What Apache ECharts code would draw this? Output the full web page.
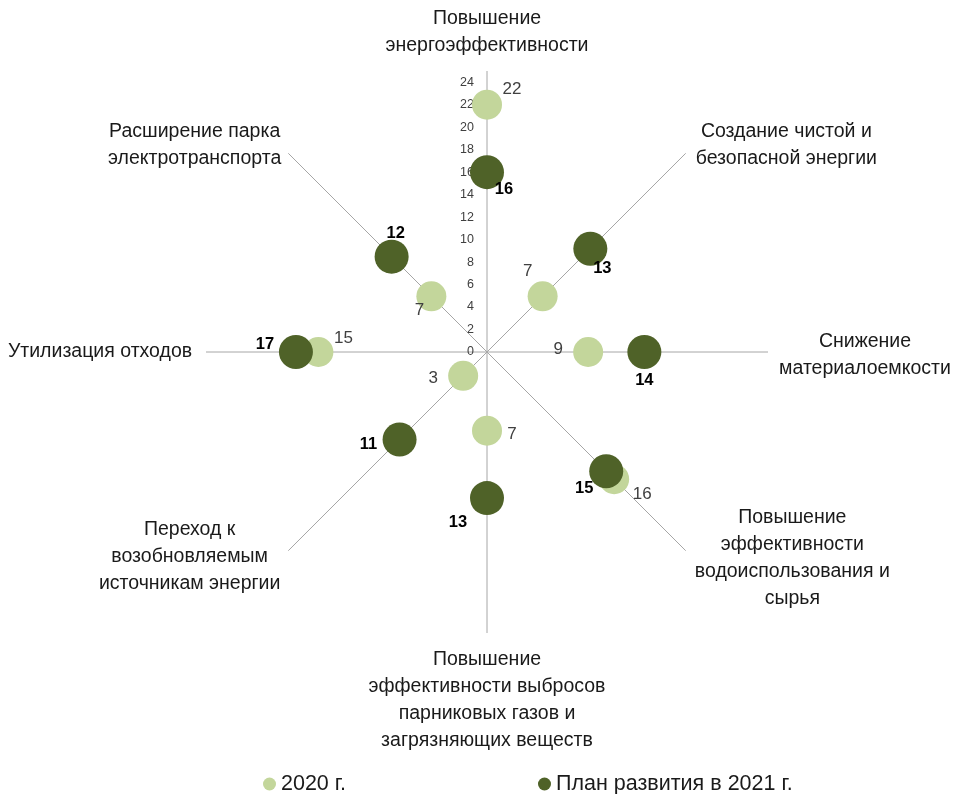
<!DOCTYPE html>
<html>
<head>
<meta charset="utf-8">
<script src="https://cdn.jsdelivr.net/npm/echarts@6/dist/echarts.min.js"></script>
<style>
html,body{margin:0;padding:0;background:#fff;}
#chart{width:955px;height:794px;}
</style>
</head>
<body>
<div id="chart"></div>
<script>
// Categories (clockwise from top)
var categories = [
  'Повышение\nэнергоэффективности',
  'Создание чистой и\nбезопасной энергии',
  'Снижение\nматериалоемкости',
  'Повышение\nэффективности\nводоиспользования и\nсырья',
  'Повышение\nэффективности выбросов\nпарниковых газов и\nзагрязняющих веществ',
  'Переход к\nвозобновляемым\nисточникам энергии',
  'Утилизация отходов',
  'Расширение парка\nэлектротранспорта'
];
var seriesNames = ['2020 г.', 'План развития в 2021 г.'];
var values2020 = [22, 7, 9, 16, 7, 3, 15, 7];
var values2021 = [16, 13, 14, 15, 13, 11, 17, 12];
var axisMax = 25;
var tickMax = 24;
var tickStep = 2;

// layout-only settings (label offsets, name block widths/paddings)
var offs2020 = [[25,-15],[-15,-25],[-30,-3],[28,15],[25,4],[-30,2],[25,-14],[-12,14]];
var offs2021 = [[17,17],[12,20],[0,28],[-22,17],[-29,24],[-31,5],[-31,-8],[4,-23]];
var nameWidths = [210, 182, 172, 198, 242, 186, 190, 176];
var namePads = [[0,0,4,0],[0,0,-24,4],[7,0,0,3],[-52,0,0,2],[5,0,0,0],[-40,0,0,0],[0,3,0,0],[0,0,-24,0]];

var FONT = 'Liberation Sans, Arial, sans-serif';
var rich = {};
nameWidths.forEach(function (w, i) {
  rich['c' + i] = {width: w, align: 'center', fontSize: 19.5, lineHeight: 27, color: '#1a1a1a', fontFamily: FONT};
});

var chart = echarts.init(document.getElementById('chart'));

function buildData(vals, offs) {
  return vals.map(function (v, i) {
    return {
      value: [v, categories[i]],
      label: {offset: offs[i]}
    };
  });
}

chart.setOption({
  animation: false,
  backgroundColor: '#ffffff',
  polar: {center: [487, 352], radius: 281},
  angleAxis: {
    type: 'category',
    data: categories.map(function (c, i) {
      return {value: c, textStyle: {padding: namePads[i]}};
    }),
    startAngle: 90,
    clockwise: true,
    boundaryGap: false,
    axisLine: {show: false},
    axisTick: {show: false},
    splitLine: {show: true, lineStyle: {color: '#a6a6a6', width: 1}},
    axisLabel: {
      margin: 8,
      formatter: function (val, idx) {
        return val.split('\n').map(function (l) { return '{c' + idx + '|' + l + '}'; }).join('\n');
      },
      rich: rich
    }
  },
  radiusAxis: {
    type: 'value',
    min: 0,
    max: axisMax,
    interval: tickStep,
    axisLine: {show: false},
    axisTick: {show: false},
    splitLine: {show: false},
    axisLabel: {
      fontSize: 12.5,
      color: '#404040',
      fontFamily: FONT,
      margin: 13,
      formatter: function (v) { return v > tickMax ? '' : String(v); }
    }
  },
  legend: {
    left: 258,
    top: 768,
    itemWidth: 13,
    itemHeight: 13,
    itemGap: 192,
    icon: 'circle',
    textStyle: {fontSize: 21.5, color: '#1a1a1a', fontFamily: FONT},
    data: seriesNames
  },
  series: [
    {
      name: seriesNames[0],
      type: 'scatter',
      coordinateSystem: 'polar',
      symbol: 'circle',
      symbolSize: 30,
      itemStyle: {color: '#c3d69b', opacity: 1},
      label: {show: true, position: 'inside', fontSize: 17, color: '#404040', fontFamily: FONT},
      data: buildData(values2020, offs2020)
    },
    {
      name: seriesNames[1],
      type: 'scatter',
      coordinateSystem: 'polar',
      symbol: 'circle',
      symbolSize: 34,
      itemStyle: {color: '#4f6228', opacity: 1},
      label: {show: true, position: 'inside', fontSize: 16.5, fontWeight: 'bold', color: '#000000', fontFamily: FONT},
      data: buildData(values2021, offs2021)
    }
  ]
});
</script>
</body>
</html>
